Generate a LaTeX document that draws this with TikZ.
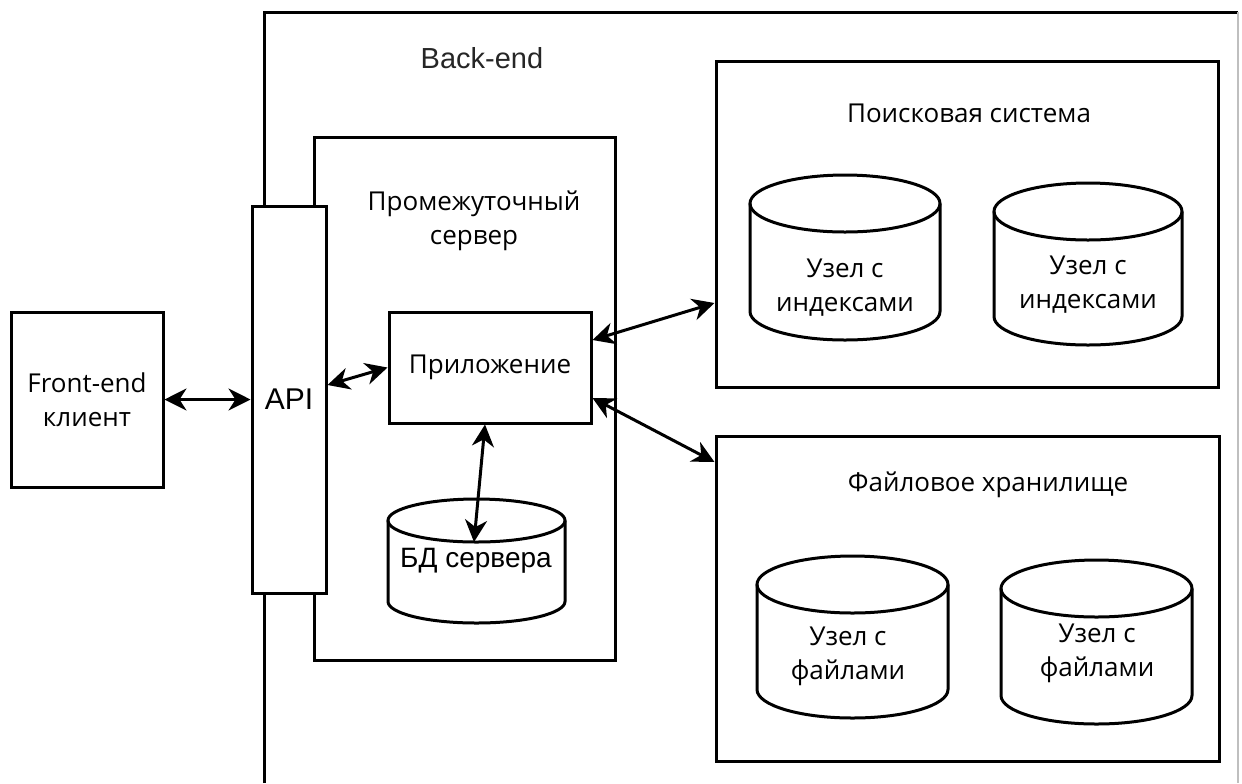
\documentclass[tikz,border=0pt]{standalone}
\usepackage{fontspec}
\setmainfont{Open Sans}
\newfontfamily\arialfont{Liberation Sans}
\usetikzlibrary{arrows.meta}

\tikzset{
  box/.style={draw, line width=1.5pt, fill=white, inner sep=0pt},
  txt/.style={font=\fontsize{13}{17}\selectfont, align=center, inner sep=0pt},
  txtarial/.style={font=\arialfont\fontsize{14.5}{17}\selectfont, inner sep=0pt},
  link/.style={line width=1.5pt, {Stealth[length=11pt,width=11pt,inset=3.5pt]}-{Stealth[length=11pt,width=11pt,inset=3.5pt]}}
}

% cylinder: centre x, top y, bottom y, x radius, y radius
\newcommand{\drum}[5]{%
  \draw[line width=1.5pt, fill=white] (#1-#4,#2) -- (#1-#4,#3) arc[start angle=180, end angle=0, x radius=#4, y radius=#5] -- (#1+#4,#2);
  \draw[line width=1.5pt] (#1,#2) ellipse [x radius=#4, y radius=#5];
}

\begin{document}
\begin{tikzpicture}[x=0.5pt, y=-0.5pt]
  \useasboundingbox (0,0) rectangle (1242,783);

  % Back-end
  \draw[line width=1.5pt] (264,783) -- (264,12) -- (1238,12);
  \draw[gray!50, line width=0.8pt] (1238,12) -- (1238,783);
  \node[txtarial, text=black!85] (backlbl) at (482,58) {Back-end};

  % Middle server and API
  \node[box, minimum width=150.5pt, minimum height=261.5pt] (srv) at (464.5,398.5) {};
  \node[txt] (srvlbl) at (474,221) {Промежуточный\\сервер};
  \node[box, minimum width=37pt, minimum height=193.5pt, font=\arialfont\fontsize{15}{17}\selectfont] (api) at (289,399.5) {API};
  \node[box, minimum width=101pt, minimum height=55.5pt, font=\fontsize{13}{17}\selectfont] (app) at (490,367.5) {Приложение};
  \drum{476.5}{520.5}{601.5}{88.5}{21.5}
  \node[txtarial, font=\arialfont\fontsize{14}{17}\selectfont] (db) at (476,561) {БД сервера};
  \coordinate (dbtip) at (474,542);

  % Front-end
  \node[box, minimum width=76pt, minimum height=87.5pt, align=center, font=\fontsize{13}{17}\selectfont] (front) at (87,399.5) {Front-end\\клиент};

  % Search
  \node[box, minimum width=251pt, minimum height=163pt] (search) at (967,224) {};
  \node[txt] (searchlbl) at (969,113) {Поисковая система};
  \drum{845}{203.5}{311.5}{95}{28.5}
  \node[txt] (idx1) at (845,287.5) {Узел с\\индексами};
  \drum{1088}{211.5}{316.5}{94}{28.5}
  \node[txt] (idx2) at (1088,284.5) {Узел с\\индексами};

  % Files
  \node[box, minimum width=251.5pt, minimum height=162.5pt] (files) at (967.5,598.5) {};
  \node[txt] (fileslbl) at (988,485) {Файловое хранилище};
  \drum{852.5}{584.5}{689.5}{95.5}{28.5}
  \node[txt] (file1) at (848,656.5) {Узел с\\файлами};
  \drum{1096.5}{588.5}{695.5}{95.5}{28.5}
  \node[txt] (file2) at (1097,653) {Узел с\\файлами};

  % Arrows
  \draw[link] (front.east) -- (api.west);
  \draw[link] ([yshift=7.25pt]api.east) -- (app.west);
  \draw[link] ([yshift=13.75pt]app.east) -- ([yshift=-39.5pt]search.west);
  \draw[link] ([yshift=-15.25pt]app.east) -- ([yshift=68.25pt]files.west);
  \draw[link] ([xshift=-2.5pt]app.south) -- (dbtip);
\end{tikzpicture}
\end{document}
